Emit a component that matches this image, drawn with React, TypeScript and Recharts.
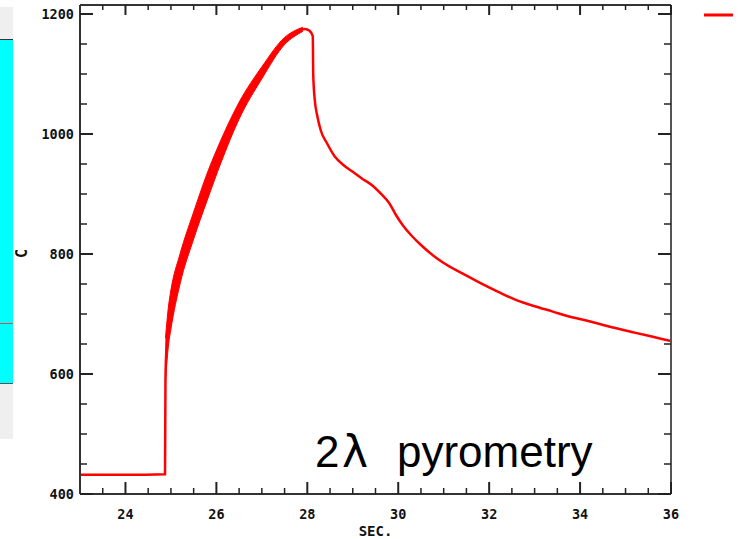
import { Area, ComposedChart, Line, XAxis, YAxis } from 'recharts';

// temperature trace (SEC. vs C)
const curveSec = [
    23.0, 24.0, 24.87, 24.88, 24.9, 24.95, 25.0, 25.1, 25.2, 25.3, 25.45, 25.6,
    25.75, 25.9, 26.05, 26.25, 26.5, 26.75, 27.0, 27.2, 27.45, 27.65, 27.85,
    27.95, 28.05, 28.12, 28.13, 28.16, 28.22, 28.3, 28.43, 28.6, 28.8, 29.0,
    29.2, 29.45, 29.65, 29.8, 29.95, 30.1, 30.3, 30.5, 30.76, 31.0, 31.4, 31.8,
    32.2, 32.6, 33.0, 33.4, 33.7, 34.2, 34.7, 35.2, 35.6, 36.0,
];
const curveTemp = [
    432, 432, 433, 590, 640, 680, 705, 742, 775, 805, 840, 873, 905, 938, 968,
    1005, 1040, 1073, 1102, 1127, 1152, 1165, 1174, 1175, 1172, 1163, 1100,
    1060, 1030, 1005, 985, 963, 948, 937, 926, 913, 898, 885, 865, 848, 830,
    815, 798, 785, 768, 752, 737, 723, 713, 704, 697, 688, 678, 669, 662, 655,
];

// the noisy part of the rise shows up as a thick band
const bandSec = [24.88, 24.95, 25.0, 25.2, 25.5, 25.8, 26.1, 26.5, 27.0, 27.5, 27.9];
const bandLow = [590, 650, 675, 750, 825, 890, 952, 1025, 1092, 1149, 1171];
const bandHigh = [660, 715, 740, 800, 870, 935, 990, 1053, 1112, 1161, 1178];

const xTicks = [
    23.5, 24, 24.5, 25, 25.5, 26, 26.5, 27, 27.5, 28, 28.5, 29, 29.5, 30, 30.5,
    31, 31.5, 32, 32.5, 33, 33.5, 34, 34.5, 35, 35.5, 36,
];
const xLabels = [24, 26, 28, 30, 32, 34, 36];
const yTicks = [
    400, 450, 500, 550, 600, 650, 700, 750, 800, 850, 900, 950, 1000, 1050,
    1100, 1150, 1200,
];
const yLabels = [400, 600, 800, 1000, 1200];

const curveData = curveSec.map((x, i) => ({ x, c: curveTemp[i] }));
const bandData = bandSec.map((x, i) => ({ x, range: [bandLow[i], bandHigh[i]] }));

const tickFont = {
    fontFamily: '"DejaVu Sans Mono", monospace',
    fontWeight: 700,
    fontSize: 13.5,
    fill: '#111',
};
const TICK = '#222';

const BottomTick = (props: any) => {
    const { x, y, payload } = props;
    const major = xLabels.includes(payload.value);
    return (
        <g>
            <line x1={x} y1={y} x2={x} y2={y - (major ? 12 : 6)} stroke={TICK} strokeWidth={major ? 2 : 1.5} />
            {major && (
                <text x={x} y={y + 25} textAnchor="middle" {...tickFont}>
                    {payload.value}
                </text>
            )}
        </g>
    );
};

const TopTick = (props: any) => {
    const { x, y, payload } = props;
    const major = xLabels.includes(payload.value);
    return <line x1={x} y1={y} x2={x} y2={y + (major ? 10 : 5)} stroke={TICK} strokeWidth={major ? 2 : 1.5} />;
};

const LeftTick = (props: any) => {
    const { x, y, payload } = props;
    const major = yLabels.includes(payload.value);
    return (
        <g>
            <line x1={x} y1={y} x2={x + (major ? 13 : 7)} y2={y} stroke={TICK} strokeWidth={major ? 2 : 1.5} />
            {major && (
                <text x={x - 6} y={y + 5} textAnchor="end" {...tickFont}>
                    {payload.value}
                </text>
            )}
        </g>
    );
};

const RightTick = (props: any) => {
    const { x, y, payload } = props;
    const major = yLabels.includes(payload.value);
    return <line x1={x} y1={y} x2={x - (major ? 13 : 7)} y2={y} stroke={TICK} strokeWidth={major ? 2 : 1.5} />;
};

export default function App() {
    return (
        <div style={{ position: 'fixed', left: 0, top: 0, width: 739, height: 539, background: '#fff' }}>
            {/* edge of the neighbouring window */}
            <div style={{ position: 'absolute', left: 0, top: 7, width: 13, height: 432, background: '#efefef' }} />
            <div
                style={{
                    position: 'absolute',
                    left: 0,
                    top: 39,
                    width: 13,
                    height: 343,
                    background: '#00ffff',
                    borderTop: '1px solid #333',
                    borderBottom: '1px solid #555',
                }}
            />
            <div style={{ position: 'absolute', left: 0, top: 323, width: 13, height: 1, background: '#d05050' }} />

            <div style={{ position: 'absolute', left: 0, top: 0 }}>
                <ComposedChart width={739} height={539} margin={{ top: 4, right: 67, bottom: 15, left: 10 }}>
                    <XAxis
                        xAxisId="b"
                        type="number"
                        dataKey="x"
                        domain={[23, 36]}
                        ticks={xTicks}
                        allowDataOverflow
                        height={30}
                        tickSize={0}
                        tickMargin={0}
                        tickLine={false}
                        tick={<BottomTick />}
                        interval={0}
                        axisLine={{ stroke: '#333', strokeWidth: 2 }}
                        label={{
                            content: (p: any) => (
                                <text
                                    x={p.viewBox.x + p.viewBox.width / 2}
                                    y={p.viewBox.y + 42}
                                    textAnchor="middle"
                                    {...tickFont}
                                    fontSize={14}
                                >
                                    SEC.
                                </text>
                            ),
                        }}
                    />
                    <XAxis
                        xAxisId="t"
                        orientation="top"
                        type="number"
                        dataKey="x"
                        domain={[23, 36]}
                        ticks={xTicks}
                        allowDataOverflow
                        height={1}
                        tickSize={0}
                        tickMargin={0}
                        tickLine={false}
                        tick={<TopTick />}
                        interval={0}
                        axisLine={{ stroke: '#333', strokeWidth: 2 }}
                    />
                    <YAxis
                        yAxisId="l"
                        type="number"
                        domain={[400, 1215]}
                        ticks={yTicks}
                        allowDataOverflow
                        width={70}
                        tickSize={0}
                        tickMargin={0}
                        tickLine={false}
                        tick={<LeftTick />}
                        interval={0}
                        axisLine={{ stroke: '#333', strokeWidth: 2 }}
                        label={{
                            content: (p: any) => {
                                const cx = p.viewBox.x + 12;
                                const cy = p.viewBox.y + p.viewBox.height / 2 + 4;
                                return (
                                    <text
                                        x={cx}
                                        y={cy}
                                        textAnchor="middle"
                                        dominantBaseline="central"
                                        transform={`rotate(-90 ${cx} ${cy})`}
                                        {...tickFont}
                                        fontSize={15}
                                    >
                                        C
                                    </text>
                                );
                            },
                        }}
                    />
                    <YAxis
                        yAxisId="r"
                        orientation="right"
                        type="number"
                        domain={[400, 1215]}
                        ticks={yTicks}
                        allowDataOverflow
                        width={1}
                        tickSize={0}
                        tickMargin={0}
                        tickLine={false}
                        tick={<RightTick />}
                        interval={0}
                        axisLine={{ stroke: '#555', strokeWidth: 2 }}
                    />
                    <Area
                        xAxisId="b"
                        yAxisId="l"
                        data={bandData}
                        dataKey="range"
                        type="monotone"
                        stroke="#ff0000"
                        strokeWidth={1}
                        fill="#ff0000"
                        fillOpacity={1}
                        dot={false}
                        activeDot={false}
                        isAnimationActive={false}
                    />
                    <Line
                        xAxisId="b"
                        yAxisId="l"
                        data={curveData}
                        dataKey="c"
                        type="monotone"
                        stroke="#ff0000"
                        strokeWidth={2.5}
                        dot={false}
                        activeDot={false}
                        isAnimationActive={false}
                    />
                </ComposedChart>
            </div>

            <svg
                width={739}
                height={539}
                style={{ position: 'absolute', left: 0, top: 0, pointerEvents: 'none' }}
            >
                <line x1={704} y1={15} x2={733} y2={15} stroke="#ff0000" strokeWidth={3} />
                <text fontFamily='"Liberation Sans", Arial, sans-serif' fontSize={44} fill="#000">
                    <tspan x={315} y={467}>2</tspan>
                    <tspan x={342} y={467} fontFamily='"DejaVu Sans", sans-serif'>λ</tspan>
                    <tspan x={397} y={467}>pyrometry</tspan>
                </text>
            </svg>
        </div>
    );
}
